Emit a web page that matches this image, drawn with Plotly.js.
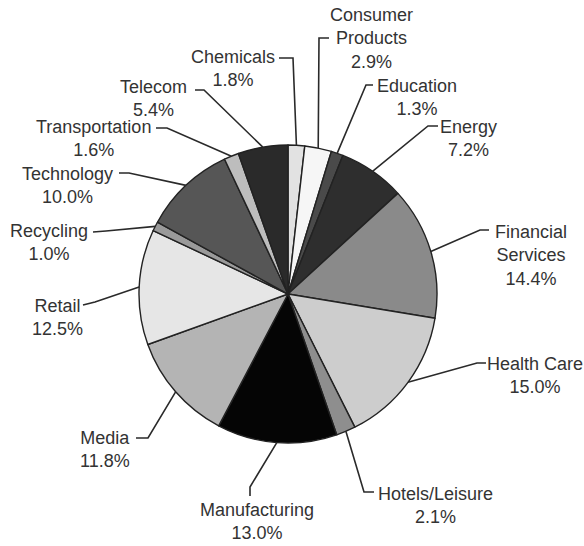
<!DOCTYPE html>
<html>
<head>
<meta charset="utf-8">
<script src="https://cdn.plot.ly/plotly-3.0.1.min.js"></script>
<style>html,body{margin:0;padding:0;background:#fff;}#chart{width:584px;height:546px;}</style>
</head>
<body>
<div id="chart"></div>
<script>
// ---- data ----
const sectors = ["Chemicals","Consumer Products","Education","Energy","Financial Services","Health Care","Hotels/Leisure","Manufacturing","Media","Retail","Recycling","Technology","Transportation","Telecom"];
const labelText = ["Chemicals","Consumer<br>Products","Education","Energy","Financial<br>Services","Health Care","Hotels/Leisure","Manufacturing","Media","Retail","Recycling","Technology","Transportation","Telecom"];
const shares = [1.8, 2.9, 1.3, 7.2, 14.4, 15.0, 2.1, 13.0, 11.8, 12.5, 1.0, 10.0, 1.6, 5.4];

// ---- style ----
const fills = ["#e2e2e2","#f6f6f6","#4a4a4a","#2e2e2e","#8a8a8a","#cdcdcd","#8e8e8e","#050505","#b4b4b4","#e6e6e6","#9a9a9a","#565656","#bdbdbd","#2a2a2a"];
// label block centre (px) and leader line: text-end point, elbow point (px)
const labelPos = [[233,68],[371,39],[417,97],[468,138],[531,255],[535,375],[435,505],[257,521],[105,449],[57,317],[49,242],[67,185],[93,138],[153,98]];
const lineStart = [[279,58],[329,38],[373,85],[438,126],[489,230],[486,363],[374,492],[250,496],[136,438],[83,305],[93,232],[119,173],[156,128],[195,90]];
const lineElbow = [[293,58],[319,38],[366,85],[428,126],[480,230],[477,363],[364,492],[250,487],[148,438],[95,302],[106,231],[129,173],[167,128],[204,90]];

const W = 584, H = 546;
const cx = 288, cy = 294, R = 149;
const dom = {x:[(cx-R)/W,(cx+R)/W], y:[1-(cy+R)/H, 1-(cy-R)/H]};
const px = (x)=>x/W, py = (y)=>1-y/H;

const total = shares.reduce((a,b)=>a+b,0);
let cum = 0;
const annotations = [], shapes = [];
shares.forEach((v,i)=>{
  const mid = (cum + v/2)/total; cum += v;
  const a = 2*Math.PI*mid;
  const ex = cx + R*Math.sin(a), ey = cy - R*Math.cos(a);
  const [sx,sy] = lineStart[i], [bx,by] = lineElbow[i];
  shapes.push({type:"path", xref:"paper", yref:"paper",
    path:`M ${px(sx)} ${py(sy)} L ${px(bx)} ${py(by)} L ${px(ex)} ${py(ey)}`,
    line:{color:"#2a2a2a", width:1.6}});
  annotations.push({xref:"paper", yref:"paper", x:px(labelPos[i][0]), y:py(labelPos[i][1]),
    xanchor:"center", yanchor:"middle", showarrow:false,
    text: labelText[i] + "<br>" + shares[i].toFixed(1) + "%",
    font:{family:"Liberation Sans, Arial, sans-serif", size:18, color:"#333"}});
});

const trace = {type:"pie", labels:sectors, values:shares, sort:false, direction:"clockwise", rotation:0,
  textinfo:"none", hoverinfo:"label+percent", domain:dom,
  marker:{colors:fills, line:{color:"#222", width:1.4}}};

Plotly.newPlot("chart", [trace], {
  width:W, height:H, margin:{l:0,r:0,t:0,b:0}, showlegend:false,
  paper_bgcolor:"#fff", shapes:shapes, annotations:annotations
}, {displayModeBar:false, staticPlot:true});
</script>
</body>
</html>
